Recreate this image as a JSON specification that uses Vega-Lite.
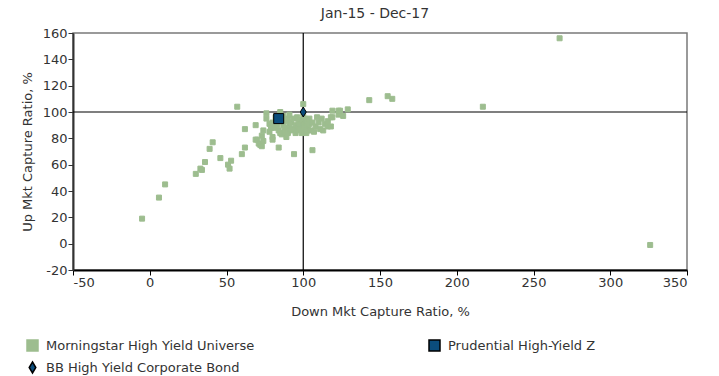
{
  "$schema": "https://vega.github.io/schema/vega-lite/v6.json",
  "width": 614,
  "height": 237,
  "autosize": {"type": "none"},
  "padding": {"left": 73, "top": 33, "right": 32, "bottom": 106},
  "background": "white",
  "title": {"text": "Jan-15 - Dec-17", "fontSize": 14, "font": "DejaVu Sans", "fontWeight": "normal", "color": "#333333", "offset": 6, "dx": -5},
  "config": {
    "view": {"stroke": "#7a7a7a", "strokeWidth": 1.5},
    "font": "DejaVu Sans",
    "axis": {
      "grid": false, "labelOverlap": false, "labelExpr": "datum.value + ''",
      "tickSize": 5, "tickWidth": 1, "domainWidth": 2,
      "labelFont": "DejaVu Sans", "labelFontSize": 13, "labelColor": "#333333",
      "titleFont": "DejaVu Sans", "titleFontSize": 13, "titleFontWeight": "normal", "titleColor": "#333333"
    },
    "axisX": {"domainColor": "#000000", "tickColor": "#000000", "labelPadding": 1, "titlePadding": 16},
    "axisY": {"domainColor": "#333333", "tickColor": "#333333", "labelPadding": 1, "titlePadding": 8},
    "legend": {
      "orient": "none", "direction": "horizontal", "legendX": -47, "legendY": 306, "columns": 2, "columnPadding": 171, "rowPadding": 5,
      "symbolSize": 121, "labelFontSize": 13, "labelFont": "DejaVu Sans", "labelColor": "#333333", "labelOffset": 7, "padding": 0, "labelLimit": 400
    }
  },
  "datasets": {
    "funds": [
      {"series": "Morningstar High Yield Universe", "down": -5, "up": 19},
      {"series": "Morningstar High Yield Universe", "down": 6, "up": 35},
      {"series": "Morningstar High Yield Universe", "down": 10, "up": 45},
      {"series": "Morningstar High Yield Universe", "down": 30, "up": 53},
      {"series": "Morningstar High Yield Universe", "down": 33, "up": 57},
      {"series": "Morningstar High Yield Universe", "down": 34, "up": 56},
      {"series": "Morningstar High Yield Universe", "down": 36, "up": 62},
      {"series": "Morningstar High Yield Universe", "down": 39, "up": 72},
      {"series": "Morningstar High Yield Universe", "down": 41, "up": 77},
      {"series": "Morningstar High Yield Universe", "down": 46, "up": 65},
      {"series": "Morningstar High Yield Universe", "down": 51, "up": 60},
      {"series": "Morningstar High Yield Universe", "down": 53, "up": 63},
      {"series": "Morningstar High Yield Universe", "down": 52, "up": 57},
      {"series": "Morningstar High Yield Universe", "down": 57, "up": 104},
      {"series": "Morningstar High Yield Universe", "down": 60, "up": 68},
      {"series": "Morningstar High Yield Universe", "down": 62, "up": 73},
      {"series": "Morningstar High Yield Universe", "down": 62, "up": 87},
      {"series": "Morningstar High Yield Universe", "down": 69, "up": 90},
      {"series": "Morningstar High Yield Universe", "down": 69, "up": 79},
      {"series": "Morningstar High Yield Universe", "down": 70, "up": 79},
      {"series": "Morningstar High Yield Universe", "down": 71, "up": 76},
      {"series": "Morningstar High Yield Universe", "down": 72, "up": 75},
      {"series": "Morningstar High Yield Universe", "down": 73, "up": 74},
      {"series": "Morningstar High Yield Universe", "down": 74, "up": 78},
      {"series": "Morningstar High Yield Universe", "down": 73, "up": 82},
      {"series": "Morningstar High Yield Universe", "down": 74, "up": 86},
      {"series": "Morningstar High Yield Universe", "down": 76, "up": 99},
      {"series": "Morningstar High Yield Universe", "down": 76, "up": 95},
      {"series": "Morningstar High Yield Universe", "down": 78, "up": 85},
      {"series": "Morningstar High Yield Universe", "down": 78, "up": 91},
      {"series": "Morningstar High Yield Universe", "down": 79, "up": 88},
      {"series": "Morningstar High Yield Universe", "down": 80, "up": 81},
      {"series": "Morningstar High Yield Universe", "down": 80, "up": 79},
      {"series": "Morningstar High Yield Universe", "down": 80, "up": 92},
      {"series": "Morningstar High Yield Universe", "down": 81, "up": 88},
      {"series": "Morningstar High Yield Universe", "down": 82, "up": 96},
      {"series": "Morningstar High Yield Universe", "down": 83, "up": 90},
      {"series": "Morningstar High Yield Universe", "down": 84, "up": 73},
      {"series": "Morningstar High Yield Universe", "down": 84, "up": 86},
      {"series": "Morningstar High Yield Universe", "down": 85, "up": 100},
      {"series": "Morningstar High Yield Universe", "down": 85, "up": 84},
      {"series": "Morningstar High Yield Universe", "down": 86, "up": 83},
      {"series": "Morningstar High Yield Universe", "down": 86, "up": 93},
      {"series": "Morningstar High Yield Universe", "down": 87, "up": 90},
      {"series": "Morningstar High Yield Universe", "down": 87, "up": 97},
      {"series": "Morningstar High Yield Universe", "down": 88, "up": 88},
      {"series": "Morningstar High Yield Universe", "down": 88, "up": 85},
      {"series": "Morningstar High Yield Universe", "down": 89, "up": 93},
      {"series": "Morningstar High Yield Universe", "down": 89, "up": 81},
      {"series": "Morningstar High Yield Universe", "down": 90, "up": 84},
      {"series": "Morningstar High Yield Universe", "down": 90, "up": 95},
      {"series": "Morningstar High Yield Universe", "down": 91, "up": 98},
      {"series": "Morningstar High Yield Universe", "down": 91, "up": 89},
      {"series": "Morningstar High Yield Universe", "down": 92, "up": 92},
      {"series": "Morningstar High Yield Universe", "down": 92, "up": 86},
      {"series": "Morningstar High Yield Universe", "down": 93, "up": 87},
      {"series": "Morningstar High Yield Universe", "down": 94, "up": 68},
      {"series": "Morningstar High Yield Universe", "down": 94, "up": 95},
      {"series": "Morningstar High Yield Universe", "down": 95, "up": 90},
      {"series": "Morningstar High Yield Universe", "down": 95, "up": 84},
      {"series": "Morningstar High Yield Universe", "down": 96, "up": 86},
      {"series": "Morningstar High Yield Universe", "down": 96, "up": 96},
      {"series": "Morningstar High Yield Universe", "down": 97, "up": 89},
      {"series": "Morningstar High Yield Universe", "down": 97, "up": 92},
      {"series": "Morningstar High Yield Universe", "down": 98, "up": 94},
      {"series": "Morningstar High Yield Universe", "down": 98, "up": 87},
      {"series": "Morningstar High Yield Universe", "down": 99, "up": 91},
      {"series": "Morningstar High Yield Universe", "down": 99, "up": 84},
      {"series": "Morningstar High Yield Universe", "down": 100, "up": 106},
      {"series": "Morningstar High Yield Universe", "down": 100, "up": 97},
      {"series": "Morningstar High Yield Universe", "down": 100, "up": 90},
      {"series": "Morningstar High Yield Universe", "down": 101, "up": 88},
      {"series": "Morningstar High Yield Universe", "down": 101, "up": 95},
      {"series": "Morningstar High Yield Universe", "down": 102, "up": 84},
      {"series": "Morningstar High Yield Universe", "down": 102, "up": 93},
      {"series": "Morningstar High Yield Universe", "down": 103, "up": 89},
      {"series": "Morningstar High Yield Universe", "down": 103, "up": 86},
      {"series": "Morningstar High Yield Universe", "down": 104, "up": 95},
      {"series": "Morningstar High Yield Universe", "down": 104, "up": 91},
      {"series": "Morningstar High Yield Universe", "down": 105, "up": 86},
      {"series": "Morningstar High Yield Universe", "down": 106, "up": 92},
      {"series": "Morningstar High Yield Universe", "down": 106, "up": 71},
      {"series": "Morningstar High Yield Universe", "down": 107, "up": 85},
      {"series": "Morningstar High Yield Universe", "down": 108, "up": 89},
      {"series": "Morningstar High Yield Universe", "down": 109, "up": 96},
      {"series": "Morningstar High Yield Universe", "down": 110, "up": 92},
      {"series": "Morningstar High Yield Universe", "down": 111, "up": 87},
      {"series": "Morningstar High Yield Universe", "down": 112, "up": 95},
      {"series": "Morningstar High Yield Universe", "down": 113, "up": 86},
      {"series": "Morningstar High Yield Universe", "down": 114, "up": 91},
      {"series": "Morningstar High Yield Universe", "down": 116, "up": 89},
      {"series": "Morningstar High Yield Universe", "down": 116, "up": 93},
      {"series": "Morningstar High Yield Universe", "down": 118, "up": 96},
      {"series": "Morningstar High Yield Universe", "down": 118, "up": 89},
      {"series": "Morningstar High Yield Universe", "down": 119, "up": 101},
      {"series": "Morningstar High Yield Universe", "down": 119, "up": 96},
      {"series": "Morningstar High Yield Universe", "down": 123, "up": 98},
      {"series": "Morningstar High Yield Universe", "down": 123, "up": 101},
      {"series": "Morningstar High Yield Universe", "down": 124, "up": 101},
      {"series": "Morningstar High Yield Universe", "down": 126, "up": 97},
      {"series": "Morningstar High Yield Universe", "down": 129, "up": 102},
      {"series": "Morningstar High Yield Universe", "down": 143, "up": 109},
      {"series": "Morningstar High Yield Universe", "down": 155, "up": 112},
      {"series": "Morningstar High Yield Universe", "down": 158, "up": 110},
      {"series": "Morningstar High Yield Universe", "down": 217, "up": 104},
      {"series": "Morningstar High Yield Universe", "down": 267, "up": 156},
      {"series": "Morningstar High Yield Universe", "down": 326, "up": -1},
      {"series": "Prudential High-Yield Z", "down": 84, "up": 95},
      {"series": "BB High Yield Corporate Bond", "down": 100, "up": 100}
    ],
    "cross": [{"ref": "100"}]
  },
  "layer": [
    {
      "data": {"name": "cross"},
      "mark": {"type": "rule", "color": "black", "strokeWidth": 1.2},
      "encoding": {
        "x": {"datum": 100, "type": "quantitative", "title": "Down Mkt Capture Ratio, %", "scale": {"domain": [-50, 350], "nice": false, "zero": false}, "axis": {"values": [-50, 0, 50, 100, 150, 200, 250, 300, 350]}}
      }
    },
    {
      "data": {"name": "cross"},
      "mark": {"type": "rule", "color": "black", "strokeWidth": 1.2},
      "encoding": {
        "y": {"datum": 100, "type": "quantitative", "title": "Up Mkt Capture Ratio, %", "scale": {"domain": [-20, 160], "nice": false, "zero": false}, "axis": {"values": [-20, 0, 20, 40, 60, 80, 100, 120, 140, 160]}}
      }
    },
    {
      "data": {"name": "funds"},
      "transform": [{"filter": "datum.series === 'Morningstar High Yield Universe'"}],
      "mark": {"type": "point", "filled": true, "opacity": 1, "strokeWidth": 1, "size": 25},
      "encoding": {
        "x": {"field": "down", "type": "quantitative", "title": "Down Mkt Capture Ratio, %", "scale": {"domain": [-50, 350], "nice": false, "zero": false}, "axis": {"values": [-50, 0, 50, 100, 150, 200, 250, 300, 350]}},
        "y": {"field": "up", "type": "quantitative", "title": "Up Mkt Capture Ratio, %", "scale": {"domain": [-20, 160], "nice": false, "zero": false}, "axis": {"values": [-20, 0, 20, 40, 60, 80, 100, 120, 140, 160]}},
        "color": {"field": "series", "type": "nominal", "title": null, "scale": {"domain": ["Morningstar High Yield Universe", "Prudential High-Yield Z", "BB High Yield Corporate Bond"], "range": ["#9dbd8f", "#0b4d7c", "#0b4d7c"]}},
        "shape": {"field": "series", "type": "nominal", "title": null, "scale": {"domain": ["Morningstar High Yield Universe", "Prudential High-Yield Z", "BB High Yield Corporate Bond"], "range": ["square", "square", "M0,-1L0.6,0L0,1L-0.6,0Z"]}},
        "stroke": {"field": "series", "type": "nominal", "title": null, "scale": {"domain": ["Morningstar High Yield Universe", "Prudential High-Yield Z", "BB High Yield Corporate Bond"], "range": ["#9dbd8f", "#000000", "#000000"]}}
      }
    },
    {
      "data": {"name": "funds"},
      "transform": [{"filter": "datum.series === 'Prudential High-Yield Z'"}],
      "mark": {"type": "point", "filled": true, "opacity": 1, "strokeWidth": 1, "size": 100},
      "encoding": {
        "x": {"field": "down", "type": "quantitative", "title": "Down Mkt Capture Ratio, %", "scale": {"domain": [-50, 350], "nice": false, "zero": false}, "axis": {"values": [-50, 0, 50, 100, 150, 200, 250, 300, 350]}},
        "y": {"field": "up", "type": "quantitative", "title": "Up Mkt Capture Ratio, %", "scale": {"domain": [-20, 160], "nice": false, "zero": false}, "axis": {"values": [-20, 0, 20, 40, 60, 80, 100, 120, 140, 160]}},
        "color": {"field": "series", "type": "nominal", "title": null, "scale": {"domain": ["Morningstar High Yield Universe", "Prudential High-Yield Z", "BB High Yield Corporate Bond"], "range": ["#9dbd8f", "#0b4d7c", "#0b4d7c"]}},
        "shape": {"field": "series", "type": "nominal", "title": null, "scale": {"domain": ["Morningstar High Yield Universe", "Prudential High-Yield Z", "BB High Yield Corporate Bond"], "range": ["square", "square", "M0,-1L0.6,0L0,1L-0.6,0Z"]}},
        "stroke": {"field": "series", "type": "nominal", "title": null, "scale": {"domain": ["Morningstar High Yield Universe", "Prudential High-Yield Z", "BB High Yield Corporate Bond"], "range": ["#9dbd8f", "#000000", "#000000"]}}
      }
    },
    {
      "data": {"name": "funds"},
      "transform": [{"filter": "datum.series === 'BB High Yield Corporate Bond'"}],
      "mark": {"type": "point", "filled": true, "opacity": 1, "strokeWidth": 1, "size": 100},
      "encoding": {
        "x": {"field": "down", "type": "quantitative", "title": "Down Mkt Capture Ratio, %", "scale": {"domain": [-50, 350], "nice": false, "zero": false}, "axis": {"values": [-50, 0, 50, 100, 150, 200, 250, 300, 350]}},
        "y": {"field": "up", "type": "quantitative", "title": "Up Mkt Capture Ratio, %", "scale": {"domain": [-20, 160], "nice": false, "zero": false}, "axis": {"values": [-20, 0, 20, 40, 60, 80, 100, 120, 140, 160]}},
        "color": {"field": "series", "type": "nominal", "title": null, "scale": {"domain": ["Morningstar High Yield Universe", "Prudential High-Yield Z", "BB High Yield Corporate Bond"], "range": ["#9dbd8f", "#0b4d7c", "#0b4d7c"]}},
        "shape": {"field": "series", "type": "nominal", "title": null, "scale": {"domain": ["Morningstar High Yield Universe", "Prudential High-Yield Z", "BB High Yield Corporate Bond"], "range": ["square", "square", "M0,-1L0.6,0L0,1L-0.6,0Z"]}},
        "stroke": {"field": "series", "type": "nominal", "title": null, "scale": {"domain": ["Morningstar High Yield Universe", "Prudential High-Yield Z", "BB High Yield Corporate Bond"], "range": ["#9dbd8f", "#000000", "#000000"]}}
      }
    }
  ]
}
